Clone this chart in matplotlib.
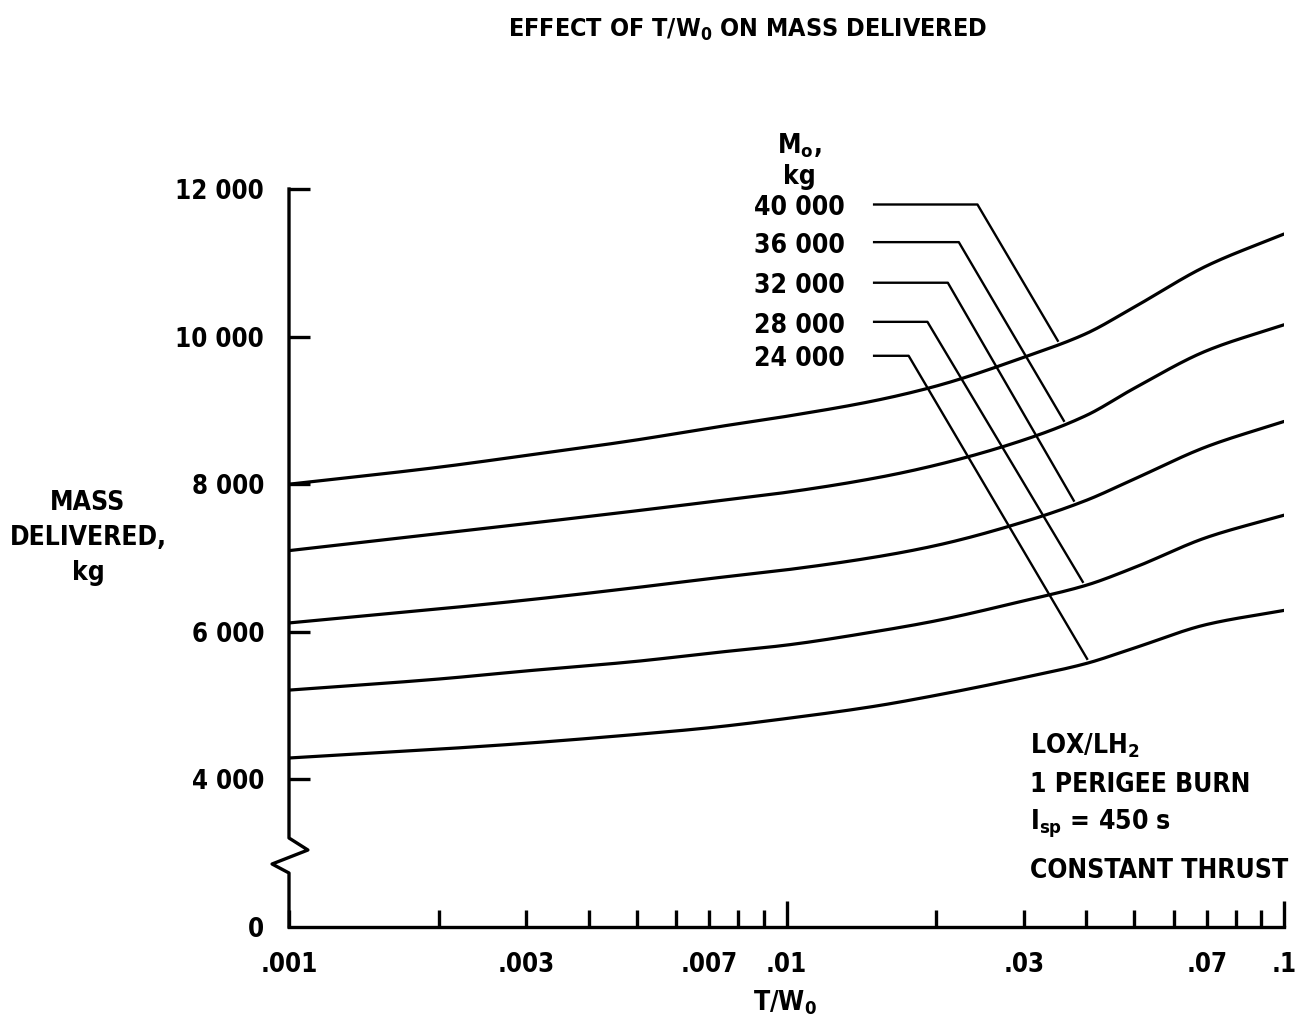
import numpy as np
import matplotlib
matplotlib.use("Agg")
import matplotlib.pyplot as plt
from matplotlib.lines import Line2D
from matplotlib import font_manager as fm

# ---------------- data ----------------
tw0 = [0.001, 0.002, 0.003, 0.005, 0.007, 0.01, 0.015, 0.02, 0.03, 0.04, 0.05, 0.07, 0.1]
m40000 = [8000, 8230, 8390, 8600, 8760, 8920, 9130, 9330, 9720, 10040, 10400, 10960, 11390]
m36000 = [7100, 7330, 7465, 7640, 7760, 7890, 8080, 8260, 8600, 8930, 9300, 9810, 10160]
m32000 = [6120, 6310, 6430, 6600, 6720, 6840, 7010, 7170, 7490, 7780, 8070, 8510, 8850]
m28000 = [5210, 5360, 5470, 5600, 5710, 5820, 6000, 6150, 6420, 6630, 6870, 7280, 7580]
m24000 = [4290, 4410, 4490, 4610, 4700, 4825, 4990, 5140, 5380, 5570, 5780, 6100, 6290]
series = [m40000, m36000, m32000, m28000, m24000]
m0_labels = ["40 000", "36 000", "32 000", "28 000", "24 000"]

# leader lines: label row level, elbow x, end x on curve
label_levels = [11790, 11280, 10730, 10200, 9740]
leader_start_x = 0.0150
elbow_x = [0.0242, 0.0222, 0.0211, 0.0192, 0.0176]
end_x = [0.0351, 0.0361, 0.0378, 0.0394, 0.0402]
label_x = 0.0131

ytick_vals = [2000, 4000, 6000, 8000, 10000, 12000]
ytick_labels = ["0", "4 000", "6 000", "8 000", "10 000", "12 000"]
xtick_vals = [0.001, 0.003, 0.007, 0.01, 0.03, 0.07, 0.1]
xtick_labels = [".001", ".003", ".007", ".01", ".03", ".07", ".1"]

# ---------------- fonts ----------------
cond_path = fm.findfont(fm.FontProperties(family="DejaVu Sans", stretch="condensed", weight="bold"))
HAVE_COND = "Condensed" in cond_path
if HAVE_COND:
    fm.fontManager.addfont(cond_path)
    FS = 19
else:
    FS = 16
plt.rcParams["font.family"] = ["DejaVu Sans"]
plt.rcParams["font.weight"] = "bold"
plt.rcParams["mathtext.fontset"] = "dejavusans"

def fprops(size=None):
    if HAVE_COND:
        p = fm.FontProperties(fname=cond_path)
    else:
        p = fm.FontProperties(family="DejaVu Sans", weight="bold")
    p.set_size(size or FS)
    return p

def txt(obj, x, y, s, size=None, **kw):
    return obj.text(x, y, s, fontproperties=fprops(size), **kw)

# ---------------- smoothing helper (monotone cubic through the read points) ----------------
def pchip(x, y, xn):
    x = np.asarray(x, float); y = np.asarray(y, float)
    h = np.diff(x); d = np.diff(y) / h
    m = np.zeros_like(y)
    for i in range(1, len(y) - 1):
        if d[i - 1] * d[i] > 0:
            w1 = 2 * h[i] + h[i - 1]; w2 = h[i] + 2 * h[i - 1]
            m[i] = (w1 + w2) / (w1 / d[i - 1] + w2 / d[i])
    m[0] = d[0]; m[-1] = d[-1]
    idx = np.clip(np.searchsorted(x, xn) - 1, 0, len(h) - 1)
    t = (xn - x[idx]) / h[idx]
    h00 = 2 * t**3 - 3 * t**2 + 1; h10 = t**3 - 2 * t**2 + t
    h01 = -2 * t**3 + 3 * t**2; h11 = t**3 - t**2
    return h00 * y[idx] + h10 * h[idx] * m[idx] + h01 * y[idx + 1] + h11 * h[idx] * m[idx + 1]

W, H = 1303, 1021
fig = plt.figure(figsize=(W / 100, H / 100), dpi=100)
ax = fig.add_axes([289 / W, 1 - 927 / H, (1284 - 289) / W, (927 - 189) / H])
ax.set_xscale("log")
ax.set_xlim(0.001, 0.1)
ax.set_ylim(2000, 12000)

ltw = np.log10(tw0)
lx = np.linspace(ltw[0], ltw[-1], 400)
lw = 2.3
for s in series:
    ax.plot(10 ** lx, pchip(ltw, s, lx), color="black", lw=lw, solid_capstyle="round")

# leaders and labels
for lab, lev, ex, endx, s in zip(m0_labels, label_levels, elbow_x, end_x, series):
    ey = pchip(ltw, s, np.array([np.log10(endx)]))[0]
    ax.plot([leader_start_x, ex, endx], [lev, lev, ey + 60], color="black", lw=1.7)
    txt(ax, label_x, lev - 50, lab, ha="right", va="center")

# header for the labels
txt(ax, 0.01060, 11990, "M$_\\mathregular{o}$,\nkg", ha="center", va="bottom",
    multialignment="center", linespacing=1.2)

# spines
for sp in ["top", "right", "left"]:
    ax.spines[sp].set_visible(False)
ax.spines["bottom"].set_linewidth(2.4)

# custom left spine with break (axes fraction coordinates)
bx = [0, 0, 0.019, -0.017, 0, 0]
by = [1.0, 1 - (838 - 189) / 738, 1 - (850 - 189) / 738, 1 - (864 - 189) / 738, 1 - (873 - 189) / 738, 0]
ax.add_line(Line2D(bx, by, transform=ax.transAxes, color="black", lw=2.4, clip_on=False,
                   solid_joinstyle="round"))

# ticks
ax.set_yticks(ytick_vals)
ax.set_yticklabels(ytick_labels)
ax.tick_params(axis="y", direction="in", length=15, width=2.4, pad=18)
ax.yaxis.get_major_ticks()[0].tick1line.set_visible(False)
ax.set_xticks(xtick_vals)
ax.set_xticklabels(xtick_labels)
minor = [m * d for d in (0.001, 0.01) for m in range(2, 10)]
ax.set_xticks(minor, minor=True)
ax.xaxis.set_minor_formatter(matplotlib.ticker.NullFormatter())
ax.tick_params(axis="x", which="minor", direction="in", length=12, width=2.4)
ax.tick_params(axis="x", which="major", direction="in", length=12, width=2.4, pad=18)
for t, v in zip(ax.xaxis.get_major_ticks(), xtick_vals):
    if v in (0.01, 0.1):
        t.tick1line.set_markersize(19)
for lab in ax.get_xticklabels() + ax.get_yticklabels():
    lab.set_fontproperties(fprops(FS - 0.5))

# axis labels
txt(fig, 88 / W, 1 - 538 / H, "MASS\nDELIVERED,\nkg", ha="center", va="center", linespacing=1.45)
txt(fig, 785 / W, 1 - 1003 / H, r"T/W$_\mathregular{0}$", ha="center", va="center")
txt(fig, 748 / W, 1 - 30 / H, r"EFFECT OF T/W$_\mathregular{0}$ ON MASS DELIVERED", ha="center",
    va="center", size=FS - 1)

# note
note_x = 1030 / W
txt(fig, note_x, 1 - 746 / H, r"LOX/LH$_\mathregular{2}$", ha="left", va="center")
txt(fig, note_x, 1 - 785 / H, "1 PERIGEE BURN", ha="left", va="center")
txt(fig, note_x, 1 - 824 / H, r"I$_\mathregular{sp}$ = 450 s", ha="left", va="center")
txt(fig, note_x, 1 - 871 / H, "CONSTANT THRUST", ha="left", va="center")

fig.savefig("out.png", dpi=100, facecolor="white")
